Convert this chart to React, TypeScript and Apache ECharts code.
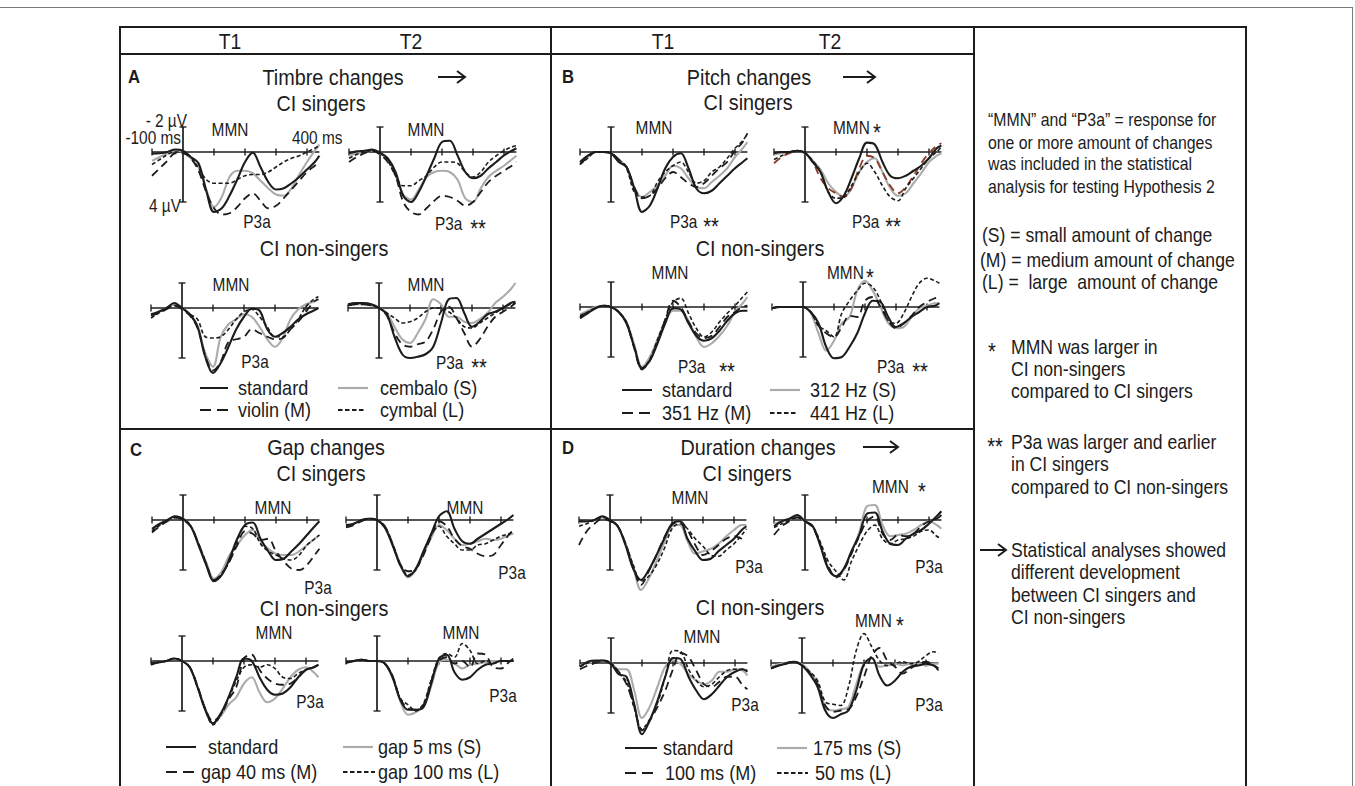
import React, { useEffect, useRef } from "react";
import * as echarts from "echarts";

// ---------- data ----------
const TIMES = [-100, -75, -50, -25, 0, 25, 50, 75, 100, 125, 150, 175, 200, 225, 250, 275, 300, 325, 350, 375, 400, 425, 440];
const AXIS_TICKS = [-100, 100, 200, 300, 400];
const VOLT_BAR = [-2, 4];

// A: Timbre
const A11_STD = [0.13, 0.1, 0.0, -0.2, -0.1, 0.4, 0.9, 3.1, 4.8, 4.5, 3.5, 2.2, 0.8, 0.05, 1.2, 2.4, 3.0, 2.9, 2.5, 2.0, 1.4, 0.8, 0.3];
const A11_S = [0.7, 0.4, 0.1, -0.1, 0.0, 0.5, 1.2, 3.0, 4.4, 3.6, 2.0, 1.5, 1.5, 1.7, 2.3, 2.9, 3.4, 3.5, 2.9, 1.8, 0.8, -0.1, -0.6];
const A11_M = [1.9, 1.3, 0.7, 0.1, 0.1, 0.5, 1.5, 3.2, 4.5, 5.0, 4.9, 4.4, 3.7, 3.3, 3.9, 4.5, 4.3, 3.7, 3.0, 2.3, 1.6, 1.1, 0.8];
const A11_L = [1.0, 0.6, 0.2, 0.0, 0.0, 0.4, 1.3, 2.2, 2.5, 2.5, 2.5, 2.2, 1.9, 1.8, 1.8, 1.6, 1.2, 0.8, 0.5, 0.3, 0.0, -0.3, -0.5];

const A12_STD = [0.1, -0.05, -0.1, -0.2, 0.05, 0.5, 1.6, 3.5, 4.0, 3.2, 1.9, 0.5, -0.8, -0.9, 0.27, 1.6, 2.1, 1.9, 1.3, 0.8, 0.27, -0.1, -0.3];
const A12_S = [0.3, 0.1, 0.0, -0.1, 0.1, 0.6, 1.8, 3.4, 3.8, 3.0, 2.0, 1.6, 1.5, 1.6, 2.2, 3.7, 4.0, 2.9, 2.0, 1.5, 1.1, 0.6, 0.3];
const A12_M = [0.8, 0.4, 0.1, -0.1, 0.2, 0.8, 1.9, 4.0, 4.8, 5.0, 4.5, 3.9, 3.5, 3.6, 3.9, 4.3, 4.0, 3.2, 2.4, 1.9, 1.5, 1.1, 0.8];
const A12_L = [0.5, 0.2, 0.0, -0.1, 0.1, 0.7, 1.9, 2.7, 2.7, 2.3, 1.9, 1.2, 0.8, 0.8, 0.9, 1.6, 2.0, 1.6, 0.8, 0.3, -0.1, -0.4, -0.5];

const A21_STD = [0.5, 0.3, 0.0, -0.4, 0.0, 0.5, 1.5, 3.9, 5.2, 4.4, 3.1, 1.7, 0.7, 0.05, 0.2, 1.7, 2.3, 2.0, 1.5, 0.9, 0.5, 0.2, 0.0];
const A21_S = [0.6, 0.3, 0.0, -0.3, 0.0, 0.5, 1.4, 3.6, 4.7, 2.3, 1.3, 0.9, 0.5, 0.7, 1.5, 2.5, 3.1, 2.4, 0.9, 0.1, -0.3, -0.5, -0.7];
const A21_M = [0.6, 0.4, 0.1, -0.2, 0.1, 0.6, 1.6, 3.8, 5.0, 4.3, 2.7, 2.5, 2.3, 1.7, 2.0, 2.3, 2.5, 2.4, 1.7, 1.1, 0.3, -0.5, -0.7];
const A21_L = [0.8, 0.4, 0.1, -0.2, 0.0, 0.5, 0.9, 2.3, 2.4, 2.3, 1.7, 0.9, 0.3, 0.1, 0.7, 1.5, 2.3, 2.3, 1.7, 0.9, -0.1, -0.7, -0.9];

const A22_STD = [-0.3, -0.4, -0.4, -0.3, 0.0, 0.5, 2.3, 3.7, 4.0, 3.9, 3.7, 3.1, 1.2, -0.7, -0.8, 0.4, 1.5, 1.1, 0.5, 0.3, 0.0, -0.4, -0.5];
const A22_S = [-0.2, -0.3, -0.3, -0.2, 0.0, 0.4, 1.5, 2.5, 2.8, 2.0, 0.9, -0.7, -0.3, 0.7, 0.7, 1.1, 1.2, 0.9, 0.4, -0.4, -0.9, -1.5, -2.0];
const A22_M = [-0.2, -0.3, -0.3, -0.2, 0.0, 0.6, 2.0, 2.9, 3.1, 2.9, 2.7, 1.7, 0.3, -0.1, 0.8, 2.0, 3.1, 2.5, 1.5, 0.7, 0.3, -0.1, -0.4];
const A22_L = [-0.2, -0.3, -0.3, -0.2, 0.0, 0.4, 0.8, 1.2, 1.1, 0.8, 0.3, 0.0, 0.0, 0.3, 0.8, 1.5, 1.6, 1.2, 0.8, 0.4, 0.0, -0.3, -0.4];

// B: Pitch
const B11_STD = [0.8, 0.3, 0.0, 0.0, 0.1, 0.8, 1.2, 2.9, 4.8, 4.3, 2.9, 1.3, 0.4, 0.1, 1.3, 2.9, 3.3, 3.1, 2.5, 1.9, 1.3, 0.8, 0.5];
const B11_S = [0.9, 0.4, 0.0, 0.0, 0.1, 0.6, 1.2, 2.9, 3.6, 3.2, 2.7, 1.9, 1.1, 1.3, 2.1, 2.8, 2.9, 2.4, 1.9, 1.3, 0.4, -0.3, -0.8];
const B11_M = [1.0, 0.4, 0.0, 0.0, 0.1, 0.6, 1.2, 2.8, 3.7, 3.5, 2.9, 2.1, 1.6, 2.0, 2.5, 2.8, 2.5, 1.9, 1.3, 0.8, -0.1, -0.8, -1.5];
const B11_L = [1.0, 0.5, 0.0, 0.0, 0.1, 0.6, 1.3, 3.2, 3.6, 3.5, 2.4, 1.6, 1.1, 0.8, 1.6, 2.5, 2.3, 1.6, 1.2, 0.5, -0.3, -0.9, -1.5];

const B12_STD = [0.1, 0.0, 0.0, -0.1, 0.05, 0.8, 1.6, 3.2, 4.1, 3.5, 2.1, 0.5, -0.75, -0.6, 0.8, 1.9, 2.1, 1.9, 1.5, 1.1, 0.5, -0.3, -0.5];
const B12_S = [0.2, 0.1, 0.0, -0.1, 0.1, 0.7, 1.4, 2.5, 3.2, 3.6, 2.9, 1.6, 0.8, 0.5, 1.6, 2.9, 3.5, 3.3, 2.5, 1.7, 0.8, 0.3, 0.1];
const B12_M = [0.9, 0.4, 0.1, -0.1, 0.1, 0.8, 2.1, 2.9, 3.3, 3.6, 2.9, 1.3, 0.3, 0.5, 1.6, 2.7, 3.3, 2.8, 1.9, 0.9, 0.1, -0.5, -0.7];
const B12_L = [0.6, 0.3, 0.0, -0.1, 0.1, 0.7, 1.6, 3.2, 3.7, 3.6, 2.7, 1.6, 0.9, 1.6, 2.7, 3.6, 3.9, 2.9, 2.1, 1.3, 0.5, 0.0, -0.4];

const B21_STD = [0.9, 0.5, 0.1, -0.1, 0.0, 0.4, 1.3, 3.2, 4.9, 4.3, 2.9, 1.3, 0.1, 0.2, 1.3, 2.3, 2.7, 2.5, 1.9, 1.1, 0.5, 0.3, 0.3];
const B21_S = [0.6, 0.3, 0.0, -0.1, 0.0, 0.4, 1.2, 3.0, 4.8, 4.0, 2.6, 1.2, 0.3, 0.3, 1.1, 2.4, 3.2, 2.9, 2.3, 1.5, 0.4, -0.3, -0.8];
const B21_M = [0.8, 0.4, 0.1, -0.1, 0.0, 0.4, 1.3, 3.3, 5.0, 4.3, 2.8, 1.0, -0.5, 0.0, 1.2, 2.1, 2.5, 2.3, 1.6, 0.8, 0.4, 0.0, -0.1];
const B21_L = [0.7, 0.4, 0.1, -0.1, 0.0, 0.4, 1.2, 3.2, 4.9, 4.2, 2.6, 1.0, -0.4, -0.7, 0.5, 1.7, 2.4, 2.0, 1.2, 0.5, -0.1, -0.8, -1.2];

const B22_STD = [0.1, 0.0, 0.0, 0.0, 0.0, 0.4, 1.3, 3.2, 4.1, 4.0, 3.2, 2.1, 0.5, -0.5, -0.4, 0.8, 1.6, 1.3, 0.8, 0.4, 0.0, -0.1, -0.3];
const B22_S = [0.0, 0.0, 0.0, 0.0, 0.0, 0.5, 2.1, 3.5, 2.7, 1.3, 0.8, -1.3, -2.1, -1.3, 0.0, 1.3, 1.7, 1.6, 0.8, 0.1, -0.1, -0.3, -0.3];
const B22_M = [0.1, 0.0, 0.0, 0.0, 0.0, 0.4, 1.5, 2.1, 2.4, 1.6, 0.7, 0.8, -0.5, -0.8, 0.0, 1.1, 1.7, 1.3, 0.7, 0.0, -0.4, -0.7, -0.8];
const B22_L = [0.1, 0.0, 0.0, 0.0, 0.0, 0.4, 1.5, 1.9, 2.4, 0.5, -0.5, -1.3, -1.9, -1.6, -0.5, 1.1, 1.3, 0.5, -0.8, -1.9, -2.3, -2.1, -1.9];

// C: Gap
const C11_STD = [0.7, 0.3, 0.0, -0.3, -0.1, 0.5, 2.0, 3.6, 4.9, 4.4, 3.1, 1.5, 0.4, 0.2, 1.5, 2.5, 3.2, 3.1, 2.5, 1.9, 1.2, 0.5, 0.1];
const C11_S = [0.8, 0.4, 0.0, -0.3, -0.1, 0.5, 1.9, 3.4, 4.7, 4.1, 2.8, 2.0, 1.2, 0.8, 1.7, 2.3, 2.7, 2.8, 2.8, 2.5, 2.0, 1.5, 1.2];
const C11_M = [1.0, 0.5, 0.1, -0.2, 0.0, 0.5, 1.9, 3.5, 4.8, 4.3, 3.3, 2.0, 0.9, 1.1, 1.6, 1.5, 2.5, 3.3, 3.9, 4.0, 3.6, 2.8, 2.3];
const C11_L = [0.9, 0.4, 0.0, -0.2, 0.0, 0.5, 1.9, 3.5, 4.9, 4.3, 3.3, 1.7, 0.5, 0.7, 1.9, 2.5, 2.8, 3.1, 3.2, 2.8, 2.0, 1.5, 1.2];

const C12_STD = [0.4, 0.3, 0.0, -0.1, 0.0, 0.6, 2.0, 3.6, 4.5, 3.9, 2.5, 1.1, -0.3, -0.7, 0.7, 1.7, 1.9, 1.5, 1.1, 0.7, 0.3, -0.1, -0.4];
const C12_S = [0.5, 0.3, 0.0, -0.1, 0.0, 0.5, 1.9, 3.5, 4.6, 4.0, 2.7, 1.4, 0.4, 0.8, 1.5, 2.0, 1.9, 1.7, 1.5, 1.6, 1.5, 1.2, 1.1];
const C12_M = [0.6, 0.4, 0.1, -0.1, 0.0, 0.5, 1.9, 3.6, 4.1, 3.9, 2.8, 1.3, 0.1, 0.5, 1.5, 2.1, 2.3, 2.7, 2.9, 2.8, 2.0, 1.2, 0.8];
const C12_L = [0.5, 0.3, 0.0, -0.1, 0.0, 0.5, 1.9, 3.5, 4.4, 4.0, 2.6, 1.2, 0.5, 1.3, 1.9, 2.4, 2.4, 2.0, 1.9, 1.6, 1.3, 1.1, 0.9];

const C21_STD = [0.2, 0.1, 0.0, -0.2, 0.0, 0.5, 2.1, 3.9, 5.0, 4.2, 2.9, 1.3, -0.2, 0.0, 1.3, 2.3, 2.7, 2.6, 2.1, 1.3, 0.7, 0.5, 0.3];
const C21_S = [0.3, 0.1, 0.0, -0.2, 0.0, 0.5, 2.0, 3.8, 5.0, 4.4, 3.5, 2.9, 1.8, 1.3, 2.5, 3.3, 3.0, 2.2, 1.3, 0.7, 0.5, 0.9, 1.3];
const C21_M = [0.2, 0.1, 0.0, -0.2, 0.0, 0.5, 2.0, 3.8, 4.8, 4.3, 3.1, 2.1, -0.2, -0.5, 0.7, 1.4, 1.8, 1.9, 1.8, 1.3, 0.7, 0.5, 0.3];
const C21_L = [0.3, 0.1, 0.0, -0.2, 0.0, 0.5, 2.1, 3.9, 5.1, 4.3, 3.0, 1.6, 0.5, 0.3, 0.5, 0.3, 0.6, 1.3, 1.4, 1.0, 0.7, 0.5, 0.3];

const C22_STD = [0.15, 0.0, -0.1, 0.0, 0.0, 0.2, 1.3, 3.1, 3.9, 3.9, 3.7, 1.8, -0.2, -0.5, 0.9, 1.5, 1.3, 0.7, 0.3, 0.2, 0.0, 0.0, 0.0];
const C22_S = [0.1, 0.0, -0.1, 0.0, 0.0, 0.2, 1.2, 3.2, 4.3, 4.1, 3.6, 2.0, 0.1, -0.1, 0.2, 0.6, 0.3, 0.2, 0.1, 0.0, 0.0, 0.0, 0.0];
const C22_M = [0.1, 0.0, -0.1, 0.0, 0.0, 0.2, 1.2, 3.0, 3.8, 3.9, 3.5, 1.6, 0.0, -0.3, 0.2, 0.0, 0.5, -0.6, -0.5, 0.5, 0.6, 0.1, -0.2];
const C22_L = [0.1, 0.0, -0.1, 0.0, 0.0, 0.2, 1.2, 3.0, 3.5, 4.0, 3.4, 1.5, -0.2, -0.6, -0.3, -1.4, -0.85, 0.2, 0.0, 0.2, 0.0, 0.0, 0.0];

// D: Duration
const D11_STD = [0.1, 0.1, 0.0, -0.3, 0.0, 0.5, 2.0, 3.9, 4.8, 4.0, 2.8, 1.5, 0.3, 0.1, 1.5, 2.5, 3.2, 3.1, 2.5, 2.0, 1.5, 0.8, 0.5];
const D11_S = [0.2, 0.1, 0.0, -0.2, 0.0, 0.5, 1.9, 3.7, 5.6, 4.7, 3.3, 1.8, 0.5, 0.4, 1.7, 2.7, 2.5, 2.3, 1.9, 1.3, 0.8, 0.4, 0.4];
const D11_M = [2.0, 0.9, 0.3, -0.1, 0.1, 0.5, 1.9, 3.8, 5.2, 4.1, 2.8, 1.4, 0.4, 0.1, 0.8, 2.0, 2.8, 2.5, 2.0, 1.5, 1.3, 1.5, 1.7];
const D11_L = [0.5, 0.3, 0.0, -0.2, 0.0, 0.5, 1.9, 3.6, 4.9, 4.5, 3.6, 2.3, 0.7, 0.3, 0.7, 1.5, 2.1, 2.8, 2.9, 2.4, 1.9, 1.2, 0.7];

const D12_STD = [0.5, 0.1, -0.1, -0.4, 0.1, 0.5, 2.1, 3.9, 4.5, 3.9, 2.5, 1.2, -0.5, -0.6, 0.9, 1.9, 2.0, 1.5, 1.1, 0.8, 0.3, -0.3, -0.7];
const D12_S = [0.3, 0.1, -0.1, -0.3, 0.1, 0.5, 2.0, 3.8, 4.5, 4.0, 2.5, 1.0, -1.1, -1.2, 0.4, 1.3, 1.2, 1.1, 0.8, 0.4, 0.1, 0.4, 0.7];
const D12_M = [1.2, 0.5, 0.1, -0.2, 0.1, 0.6, 2.0, 3.7, 4.6, 4.0, 2.7, 1.3, 0.1, -0.3, 1.1, 1.6, 1.2, 1.3, 1.1, 0.5, 0.1, -0.1, -0.4];
const D12_L = [0.6, 0.3, 0.0, -0.2, 0.1, 0.5, 1.8, 3.3, 4.1, 4.8, 3.3, 2.0, 0.9, 0.4, 1.5, 1.9, 1.6, 1.5, 1.3, 0.9, 0.8, 1.3, 1.5];

const D21_STD = [0.3, -0.1, -0.2, -0.2, 0.05, 0.9, 1.1, 3.3, 5.7, 4.6, 3.0, 1.1, -0.4, -0.3, 1.1, 2.2, 2.9, 2.5, 1.8, 1.1, 0.7, 0.5, 0.7];
const D21_S = [0.2, 0.0, -0.1, -0.2, 0.0, 0.5, 0.5, 2.2, 4.4, 3.5, 1.9, 0.3, -0.2, 0.1, 0.9, 1.4, 1.7, 1.4, 0.7, 0.7, 0.5, 0.6, 1.0];
const D21_M = [0.5, 0.2, 0.0, -0.2, 0.1, 0.7, 1.7, 3.5, 5.4, 4.6, 3.5, 2.2, 0.5, -0.8, -0.5, 0.6, 1.7, 1.9, 1.5, 1.1, 1.1, 1.8, 2.1];
const D21_L = [0.3, 0.0, -0.1, -0.2, 0.0, 0.8, 1.5, 3.6, 5.3, 4.5, 3.2, 1.1, -1.0, -0.9, 0.5, 1.4, 1.9, 1.7, 1.1, 0.6, 0.5, 0.5, 0.6];

const D22_STD = [0.45, 0.2, 0.05, -0.1, 0.2, 0.9, 1.9, 3.8, 4.4, 4.1, 3.8, 2.2, 0.1, -0.4, 1.0, 1.8, 1.4, 0.7, 0.3, 0.2, 0.05, 0.2, 0.45];
const D22_S = [0.3, 0.1, 0.0, -0.1, 0.1, 0.7, 1.6, 3.5, 3.8, 3.7, 3.5, 1.7, 0.05, -0.4, 0.3, 0.2, 0.05, 0.2, 0.05, 0.05, 0.2, 0.05, 0.05];
const D22_M = [0.4, 0.2, 0.0, -0.1, 0.2, 0.8, 1.7, 3.4, 3.9, 3.8, 3.7, 2.7, 1.1, -0.6, -1.2, -0.2, 0.3, 0.85, 0.45, 0.05, -0.1, 0.2, 0.6];
const D22_L = [0.4, 0.2, 0.0, -0.1, 0.2, 0.7, 1.4, 3.1, 3.3, 3.4, 1.9, -1.0, -2.35, -1.3, -0.2, 0.2, 0.05, -0.1, 0.05, -0.1, -0.6, -0.9, -0.75];

// ---------- layout ----------
const PX_PER_MS = 0.31;
const PX_PER_UV = 12.5;
const X_MIN = -100, X_MAX = 440, Y_MIN = -3, Y_MAX = 6.5;

const PLOTS: any[] = [
  { x0: 183, y0: 152, d: [A11_STD, A11_S, A11_M, A11_L] },
  { x0: 380, y0: 152, d: [A12_STD, A12_S, A12_M, A12_L] },
  { x0: 182, y0: 308, d: [A21_STD, A21_S, A21_M, A21_L] },
  { x0: 379, y0: 308, d: [A22_STD, A22_S, A22_M, A22_L] },
  { x0: 611, y0: 152, d: [B11_STD, B11_S, B11_M, B11_L] },
  { x0: 805, y0: 152, d: [B12_STD, B12_S, B12_M, B12_L], mColor: "#8a3a26" },
  { x0: 611, y0: 307, d: [B21_STD, B21_S, B21_M, B21_L] },
  { x0: 803, y0: 307, d: [B22_STD, B22_S, B22_M, B22_L] },
  { x0: 183, y0: 520, d: [C11_STD, C11_S, C11_M, C11_L] },
  { x0: 377, y0: 520, d: [C12_STD, C12_S, C12_M, C12_L] },
  { x0: 182, y0: 661, d: [C21_STD, C21_S, C21_M, C21_L] },
  { x0: 377, y0: 661, d: [C22_STD, C22_S, C22_M, C22_L] },
  { x0: 610, y0: 520, d: [D11_STD, D11_S, D11_M, D11_L] },
  { x0: 805, y0: 520, d: [D12_STD, D12_S, D12_M, D12_L] },
  { x0: 611, y0: 663, d: [D21_STD, D21_S, D21_M, D21_L] },
  { x0: 802, y0: 663, d: [D22_STD, D22_S, D22_M, D22_L] },
];

const INK = "#1c1c1c";
const GRAY = "#ababab";
const STYLES = [
  { color: INK, width: 2.1, type: "solid" as any },
  { color: GRAY, width: 2.1, type: "solid" as any },
  { color: INK, width: 1.8, type: [8, 5] as any },
  { color: INK, width: 1.6, type: [4, 2.5] as any },
];

const FONT = '"Liberation Sans", Arial, Helvetica, sans-serif';
const SX = 0.88;

function txt(s: string, x: number, y: number, size: number, align = "center", weight = "normal"): any {
  return {
    type: "text", x, y, scaleX: SX, silent: true,
    style: { text: s, fill: INK, font: `${weight} ${size}px ${FONT}`, align, verticalAlign: "middle" },
  };
}
function stars(n: number, x: number, y: number): any {
  return txt("*".repeat(n), x, y + 5, 23, "center");
}
function ln(x1: number, y1: number, x2: number, y2: number, w = 2, color = INK, dash?: number[]): any {
  return { type: "line", silent: true, shape: { x1, y1, x2, y2 }, style: { stroke: color, lineWidth: w, lineDash: dash } };
}
function arrow(x1: number, x2: number, y: number): any[] {
  return [
    ln(x1, y, x2, y, 2),
    { type: "polyline", silent: true, shape: { points: [[x2 - 8, y - 6], [x2, y], [x2 - 8, y + 6]] }, style: { stroke: INK, lineWidth: 2, fill: null } },
  ];
}
function legendRow(x1: number, x2: number, y: number, kind: number, label: string, tx: number): any[] {
  const st = STYLES[kind];
  const dash = kind === 2 ? [11, 6] : kind === 3 ? [4.5, 2.5] : undefined;
  return [ln(x1, y, x2, y, kind === 1 ? 2.2 : 2, st.color, dash), txt(label, tx, y, 20.5, "left")];
}

const HEAD = 22.5;
const LAB = 17.5;

function buildGraphic(): any[] {
  const g: any[] = [];
  // page frame
  g.push(ln(0, 7.5, 1353, 7.5, 1, "#7a7a7a"));
  g.push(ln(1352.5, 7, 1352.5, 786, 1, "#7a7a7a"));
  // table
  g.push(ln(119, 27, 1247, 27));
  g.push(ln(120, 26, 120, 790));
  g.push(ln(120, 54, 974, 54));
  g.push(ln(551, 27, 551, 790));
  g.push(ln(974, 27, 974, 790));
  g.push(ln(1246, 27, 1246, 790));
  g.push(ln(120, 429, 974, 429));
  // header
  g.push(txt("T1", 230, 41, 22), txt("T2", 411, 41, 22), txt("T1", 663, 41, 22), txt("T2", 830, 41, 22));

  // Panel A
  g.push(txt("A", 128, 77, 19, "left", "bold"));
  g.push(txt("Timbre changes", 333, 77, HEAD), ...arrow(438, 465, 77));
  g.push(txt("CI singers", 321, 103, HEAD), txt("CI non-singers", 324, 248, HEAD));
  g.push(txt("- 2 µV", 187, 121, LAB, "right"), txt("-100 ms", 181, 138, LAB, "right"), txt("400 ms", 292, 138, LAB, "left"), txt("4 µV", 181, 206, LAB, "right"));
  g.push(txt("MMN", 230, 130, LAB), txt("P3a", 257, 222, LAB));
  g.push(txt("MMN", 426, 130, LAB), txt("P3a", 435, 224, LAB, "left"), stars(2, 478, 224));
  g.push(txt("MMN", 231, 285, LAB), txt("P3a", 255, 362, LAB));
  g.push(txt("MMN", 426, 285, LAB), txt("P3a", 436, 363, LAB, "left"), stars(2, 479, 363));
  g.push(...legendRow(200, 228, 388, 0, "standard", 238), ...legendRow(338, 368, 388, 1, "cembalo (S)", 380));
  g.push(...legendRow(200, 228, 410, 2, "violin (M)", 238), ...legendRow(338, 366, 410, 3, "cymbal (L)", 380));

  // Panel B
  g.push(txt("B", 562, 77, 19, "left", "bold"));
  g.push(txt("Pitch changes", 749, 77, HEAD), ...arrow(843, 875, 77));
  g.push(txt("CI singers", 748, 102, HEAD), txt("CI non-singers", 760, 248, HEAD));
  g.push(txt("MMN", 654, 128, LAB), txt("P3a", 670, 222, LAB, "left"), stars(2, 711, 222));
  g.push(txt("MMN", 833, 128, LAB, "left"), stars(1, 877, 128), txt("P3a", 852, 222, LAB, "left"), stars(2, 893, 222));
  g.push(txt("MMN", 670, 273, LAB), txt("P3a", 678, 367, LAB, "left"), stars(2, 727, 367));
  g.push(txt("MMN", 827, 273, LAB, "left"), stars(1, 870, 273), txt("P3a", 877, 367, LAB, "left"), stars(2, 920, 367));
  g.push(...legendRow(622, 652, 390, 0, "standard", 662), ...legendRow(770, 800, 390, 1, "312 Hz (S)", 810));
  g.push(...legendRow(622, 650, 413, 2, "351 Hz (M)", 662), ...legendRow(770, 798, 413, 3, "441 Hz (L)", 810));

  // Panel C
  g.push(txt("C", 130, 450, 19, "left", "bold"));
  g.push(txt("Gap changes", 326, 447, HEAD));
  g.push(txt("CI singers", 321, 473, HEAD), txt("CI non-singers", 324, 608, HEAD));
  g.push(txt("MMN", 273, 508, LAB), txt("P3a", 318, 588, LAB));
  g.push(txt("MMN", 465, 508, LAB), txt("P3a", 512, 573, LAB));
  g.push(txt("MMN", 274, 633, LAB), txt("P3a", 310, 702, LAB));
  g.push(txt("MMN", 461, 633, LAB), txt("P3a", 503, 696, LAB));
  g.push(...legendRow(166, 196, 747, 0, "standard", 208), ...legendRow(343, 373, 747, 1, "gap 5 ms (S)", 378));
  g.push(...legendRow(166, 196, 772, 2, "gap 40 ms (M)", 201), ...legendRow(343, 375, 772, 3, "gap 100 ms (L)", 378));

  // Panel D
  g.push(txt("D", 562, 448, 19, "left", "bold"));
  g.push(txt("Duration changes", 758, 447, HEAD), ...arrow(863, 898, 447));
  g.push(txt("CI singers", 747, 473, HEAD), txt("CI non-singers", 760, 607, HEAD));
  g.push(txt("MMN", 690, 498, LAB), txt("P3a", 749, 567, LAB));
  g.push(txt("MMN", 872, 487, LAB, "left"), stars(1, 922, 487), txt("P3a", 929, 567, LAB));
  g.push(txt("MMN", 702, 637, LAB), txt("P3a", 745, 705, LAB));
  g.push(txt("MMN", 855, 621, LAB, "left"), stars(1, 900, 621), txt("P3a", 929, 705, LAB));
  g.push(...legendRow(625, 657, 748, 0, "standard", 663), ...legendRow(777, 807, 748, 1, "175 ms (S)", 813));
  g.push(...legendRow(625, 656, 773, 2, "100 ms (M)", 665), ...legendRow(777, 808, 773, 3, "50 ms (L)", 815));

  // notes column
  const n1 = ["“MMN” and “P3a” = response for", "one or more amount of changes", "was included in the statistical", "analysis for testing Hypothesis 2"];
  [120, 143, 164, 187].forEach((y, i) => g.push(txt(n1[i], 988, y, 18, "left")));
  g.push(txt("(S) = small amount of change", 982, 235, 20, "left"));
  g.push(txt("(M) = medium amount of change", 980, 260, 20, "left"));
  g.push(txt("(L) =  large  amount of change", 982, 282, 20, "left"));
  g.push(stars(1, 992, 347));
  ["MMN was larger in", "CI non-singers", "compared to CI singers"].forEach((s, i) => g.push(txt(s, 1011, [347, 369, 391][i], 20, "left")));
  g.push(stars(2, 995, 442));
  ["P3a was larger and earlier", "in CI singers", "compared to CI non-singers"].forEach((s, i) => g.push(txt(s, 1011, [442, 464, 487][i], 20, "left")));
  g.push(...arrow(980, 1006, 550));
  ["Statistical analyses showed", "different development", "between CI singers and", "CI non-singers"].forEach((s, i) => g.push(txt(s, 1011, [550, 572, 595, 617][i], 20, "left")));
  return g;
}

function buildOption(): any {
  const grid: any[] = [], xAxis: any[] = [], yAxis: any[] = [], series: any[] = [];
  PLOTS.forEach((p, i) => {
    grid.push({
      left: p.x0 + X_MIN * PX_PER_MS,
      top: p.y0 + Y_MIN * PX_PER_UV,
      width: (X_MAX - X_MIN) * PX_PER_MS,
      height: (Y_MAX - Y_MIN) * PX_PER_UV,
    });
    xAxis.push({ type: "value", gridIndex: i, min: X_MIN, max: X_MAX, show: false });
    yAxis.push({ type: "value", gridIndex: i, min: Y_MIN, max: Y_MAX, inverse: true, show: false });
    const ax = { xAxisIndex: i, yAxisIndex: i, silent: true, animation: false };
    series.push({ ...ax, type: "line", data: [[X_MIN, 0], [X_MAX, 0]], symbol: "none", lineStyle: { color: INK, width: 1.7 }, z: 1 });
    series.push({ ...ax, type: "scatter", data: AXIS_TICKS.map((t) => [t, 0]), symbol: "rect", symbolSize: [1.7, 7], itemStyle: { color: INK }, z: 1 });
    series.push({ ...ax, type: "line", data: VOLT_BAR.map((v) => [0, v]), symbol: "none", lineStyle: { color: INK, width: 1.7 }, z: 1 });
    series.push({ ...ax, type: "scatter", data: VOLT_BAR.map((v) => [0, v]), symbol: "rect", symbolSize: [7, 1.7], itemStyle: { color: INK }, z: 1 });
    [1, 2, 3, 0].forEach((k) => {
      const st = STYLES[k];
      series.push({
        ...ax, type: "line", smooth: 0.35, symbol: "none", z: 2,
        data: TIMES.map((t, j) => [t, p.d[k][j]]),
        lineStyle: { color: k === 2 && p.mColor ? p.mColor : st.color, width: st.width, type: st.type },
      });
    });
  });
  return {
    animation: false,
    backgroundColor: "#ffffff",
    grid, xAxis, yAxis, series,
    graphic: { elements: buildGraphic() },
  };
}

export default function App() {
  const ref = useRef<HTMLDivElement>(null);
  useEffect(() => {
    if (!ref.current) return;
    const chart = echarts.init(ref.current, null, { renderer: "svg" });
    chart.setOption(buildOption());
    return () => chart.dispose();
  }, []);
  return <div ref={ref} style={{ position: "fixed", left: 0, top: 0, width: 1355, height: 786, background: "#fff" }} />;
}
